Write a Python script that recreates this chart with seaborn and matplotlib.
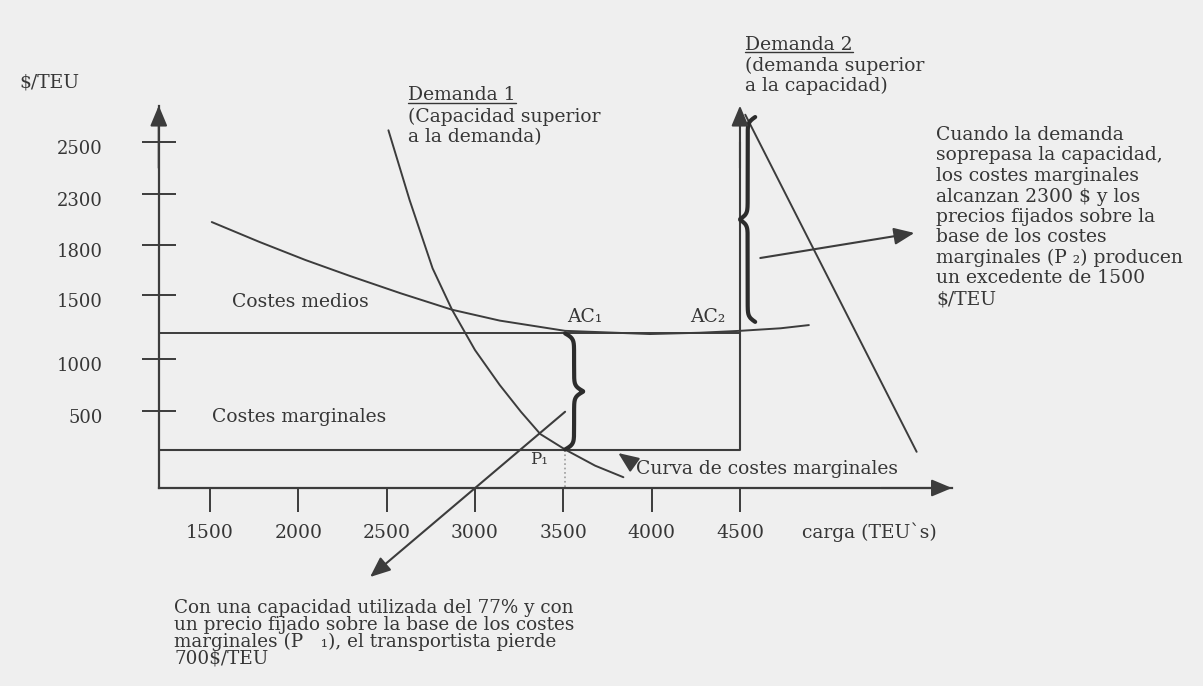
import numpy as np
import matplotlib
matplotlib.use("Agg")
import matplotlib.pyplot as plt
import seaborn as sns
from matplotlib import transforms as mtransforms
from matplotlib.lines import Line2D

# carga in TEU, coste in $/TEU (schematic diagram)
x_ticks = [1500, 2000, 2500, 3000, 3500, 4000, 4500]
y_ticks = [500, 1000, 1500, 1800, 2300, 2500]

ac_carga = [1510, 1780, 2040, 2290, 2580, 2870, 3140, 3510, 3990, 4270, 4500, 4730, 4890]
ac_coste = [2025, 1830, 1710, 1615, 1510, 1385, 1300, 1220, 1195, 1205, 1220, 1240, 1265]

d1_carga = [2510, 2630, 2760, 2870, 3000, 3140, 3260, 3370, 3510, 3680, 3840]
d1_coste = [2545, 2240, 1660, 1385, 1070, 750, 495, 350, 250, 145, 70]

d2_carga = [4530, 5500]
d2_coste = [2605, 235]

origen = 1210        # where the cost axis stands
capacidad = 4500
p1 = 250             # marginal cost level (P1)
ac1 = 1200           # average cost at P1
ac2 = 1290
tope = 2640          # arrow tips
x_fin = 5700

right_lines = ["Cuando la demanda", "soprepasa la capacidad,", "los costes marginales",
               "alcanzan 2300 $ y los", "precios fijados sobre la", "base de los costes",
               "marginales (P \u2082) producen", "un excedente de 1500", "$/TEU"]
bottom_lines = ["Con una capacidad utilizada del 77% y con",
                "un precio fijado sobre la base de los costes",
                "marginales (P   \u2081), el transportista pierde", "700$/TEU"]

BG = "#efefef"
INK = "#363636"
LINE = "#3c3c3c"

# the printed cost axis is not linear: piecewise scale between its ticks
Y_VAL = np.array([0, 500, 1000, 1500, 1800, 2300, 2500], dtype=float)
Y_POS = np.array([0, 77, 129, 193, 243, 294, 346], dtype=float)


def fwd(v):
    v = np.asarray(v, dtype=float)
    p = np.interp(v, Y_VAL, Y_POS)
    p = np.where(v < 0, v * 77 / 500, p)
    p = np.where(v > 2500, 346 + (v - 2500) * 52 / 200, p)
    return p


def inv(p):
    p = np.asarray(p, dtype=float)
    v = np.interp(p, Y_POS, Y_VAL)
    v = np.where(p < 0, p * 500 / 77, v)
    v = np.where(p > 346, 2500 + (p - 346) * 200 / 52, v)
    return v


sns.set_theme(style="white")
plt.rcParams["font.family"] = ["DejaVu Serif", "DejaVu Sans"]

W, H = 1203, 686
fig = plt.figure(figsize=(W / 100, H / 100), dpi=100, facecolor=BG)
ax = fig.add_axes([0, 0, 1, 1])
ax.set_facecolor(BG)
ax.set_yscale("function", functions=(fwd, inv))
px_per_teu = 88.33 / 500
ax.set_xlim(1500 - 210 / px_per_teu, 1500 + (W - 210) / px_per_teu)
ax.set_ylim(float(inv(488 - H)), float(inv(488)))

# axes as spines
for s in ["top", "right"]:
    ax.spines[s].set_visible(False)
ax.spines["left"].set_position(("data", origen))
ax.spines["left"].set_bounds(0, tope)
ax.spines["bottom"].set_position(("data", 0))
ax.spines["bottom"].set_bounds(origen, x_fin)
for s in ["left", "bottom"]:
    ax.spines[s].set_color(LINE)
    ax.spines[s].set_linewidth(1.6)

ax.set_xticks(x_ticks)
ax.set_xticklabels([str(v) for v in x_ticks])
ax.set_yticks(y_ticks)
ax.set_yticklabels([str(v) for v in y_ticks])
ax.tick_params(axis="y", left=True, direction="inout", length=24.5, width=1.4, color=LINE,
               pad=28, labelsize=13, labelcolor=INK)
ax.tick_params(axis="x", bottom=True, direction="out", length=17.3, width=1.4, color=LINE,
               pad=8.6, labelsize=13.5, labelcolor=INK)
ax.minorticks_off()
shift = mtransforms.ScaledTranslation(0, -0.05, fig.dpi_scale_trans)
for lab in ax.get_yticklabels():
    lab.set_transform(lab.get_transform() + shift)

arrow_kw = dict(arrowstyle="-|>,head_length=0.62,head_width=0.26", mutation_scale=20,
                color=LINE, lw=1.5, shrinkA=0, shrinkB=0)
ax.annotate("", xy=(origen, tope), xytext=(origen, 2400), arrowprops=arrow_kw)
ax.annotate("", xy=(x_fin, 0), xytext=(5300, 0), arrowprops=arrow_kw)

# curves
sns.lineplot(x=ac_carga, y=ac_coste, ax=ax, sort=False, estimator=None, color=LINE, linewidth=1.4)
sns.lineplot(x=d1_carga, y=d1_coste, ax=ax, sort=False, estimator=None, color=LINE, linewidth=1.4)
sns.lineplot(x=d2_carga, y=d2_coste, ax=ax, sort=False, estimator=None, color=LINE, linewidth=1.4)
# marginal cost: flat up to capacity, then vertical
sns.lineplot(x=[origen, capacidad, capacidad], y=[p1, p1, 2500], ax=ax, sort=False,
             estimator=None, color=LINE, linewidth=1.5)
ax.annotate("", xy=(capacidad, tope), xytext=(capacidad, 2400), arrowprops=arrow_kw)
# AC1 level
sns.lineplot(x=[origen, capacidad], y=[ac1, ac1], ax=ax, sort=False, estimator=None,
             color=LINE, linewidth=1.4)
# dotted drop from P1
ax.plot([3510, 3510], [p1, 0], ls=":", color="#9a9a9a", lw=1.2)

# pointer arrows
ax.annotate("", xy=(2406, -578), xytext=(3510, 495), arrowprops=arrow_kw)
ax.annotate("", xy=(5487, 1918), xytext=(4615, 1722), arrowprops=arrow_kw)
ax.annotate("", xy=(3811, 227), xytext=(3890, 162), arrowprops=arrow_kw)


def brace(x, y0, y1, width, side):
    bx, by0 = ax.transData.transform((x, y0))
    _, by1 = ax.transData.transform((x, y1))
    n = 120
    half = abs(by1 - by0) / 2
    beta = half / 2.6
    t = np.linspace(0, 1, n)
    h = 1 / (1 + np.exp(-beta * t)) + 1 / (1 + np.exp(-beta * (t - 1)))
    prof = np.concatenate([h, h[::-1]]) - 0.5
    ys = np.linspace(by0, by1, 2 * n)
    xs = bx + side * width * prof
    ax.plot(xs, ys, color="#2c2c2c", lw=3.0, solid_capstyle="round",
            transform=mtransforms.IdentityTransform())


brace(3510, ac1, p1, 18, +1)
brace(4586, ac2, 2596, 15, -1)


def put(x, y, s, size=13.5, **kw):
    return fig.text(x / W, 1 - y / H, s, color=INK, fontsize=size, ha="left",
                    va="center", parse_math=False, **kw)


put(19, 82, "$/TEU")
put(232, 302, "Costes medios")
put(212, 417, "Costes marginales")
put(567, 317, "AC\u2081")
put(690, 317, "AC\u2082")
put(530, 460, "P\u2081", size=12)
put(636, 469, "Curva de costes marginales")
put(802, 532, "carga (TEU`s)")

t1 = put(408, 95, "Demanda 1")
put(408, 117, "(Capacidad superior")
put(408, 137, "a la demanda)")
t2 = put(745, 45, "Demanda 2")
put(745, 66, "(demanda superior")
put(745, 86, "a la capacidad)")

for i, s in enumerate(right_lines):
    put(936, 135 + i * 20.5, s)
for i, s in enumerate(bottom_lines):
    put(174, 608 + i * 16.7, s, size=13.2)

fig.canvas.draw()
r = fig.canvas.get_renderer()
for t, yy in [(t1, 103), (t2, 52)]:
    bb = t.get_window_extent(r)
    fig.add_artist(Line2D([bb.x0, bb.x1], [H - yy, H - yy], color=INK, lw=1.0,
                          transform=mtransforms.IdentityTransform()))

fig.savefig("out.png", dpi=100, facecolor=BG)
